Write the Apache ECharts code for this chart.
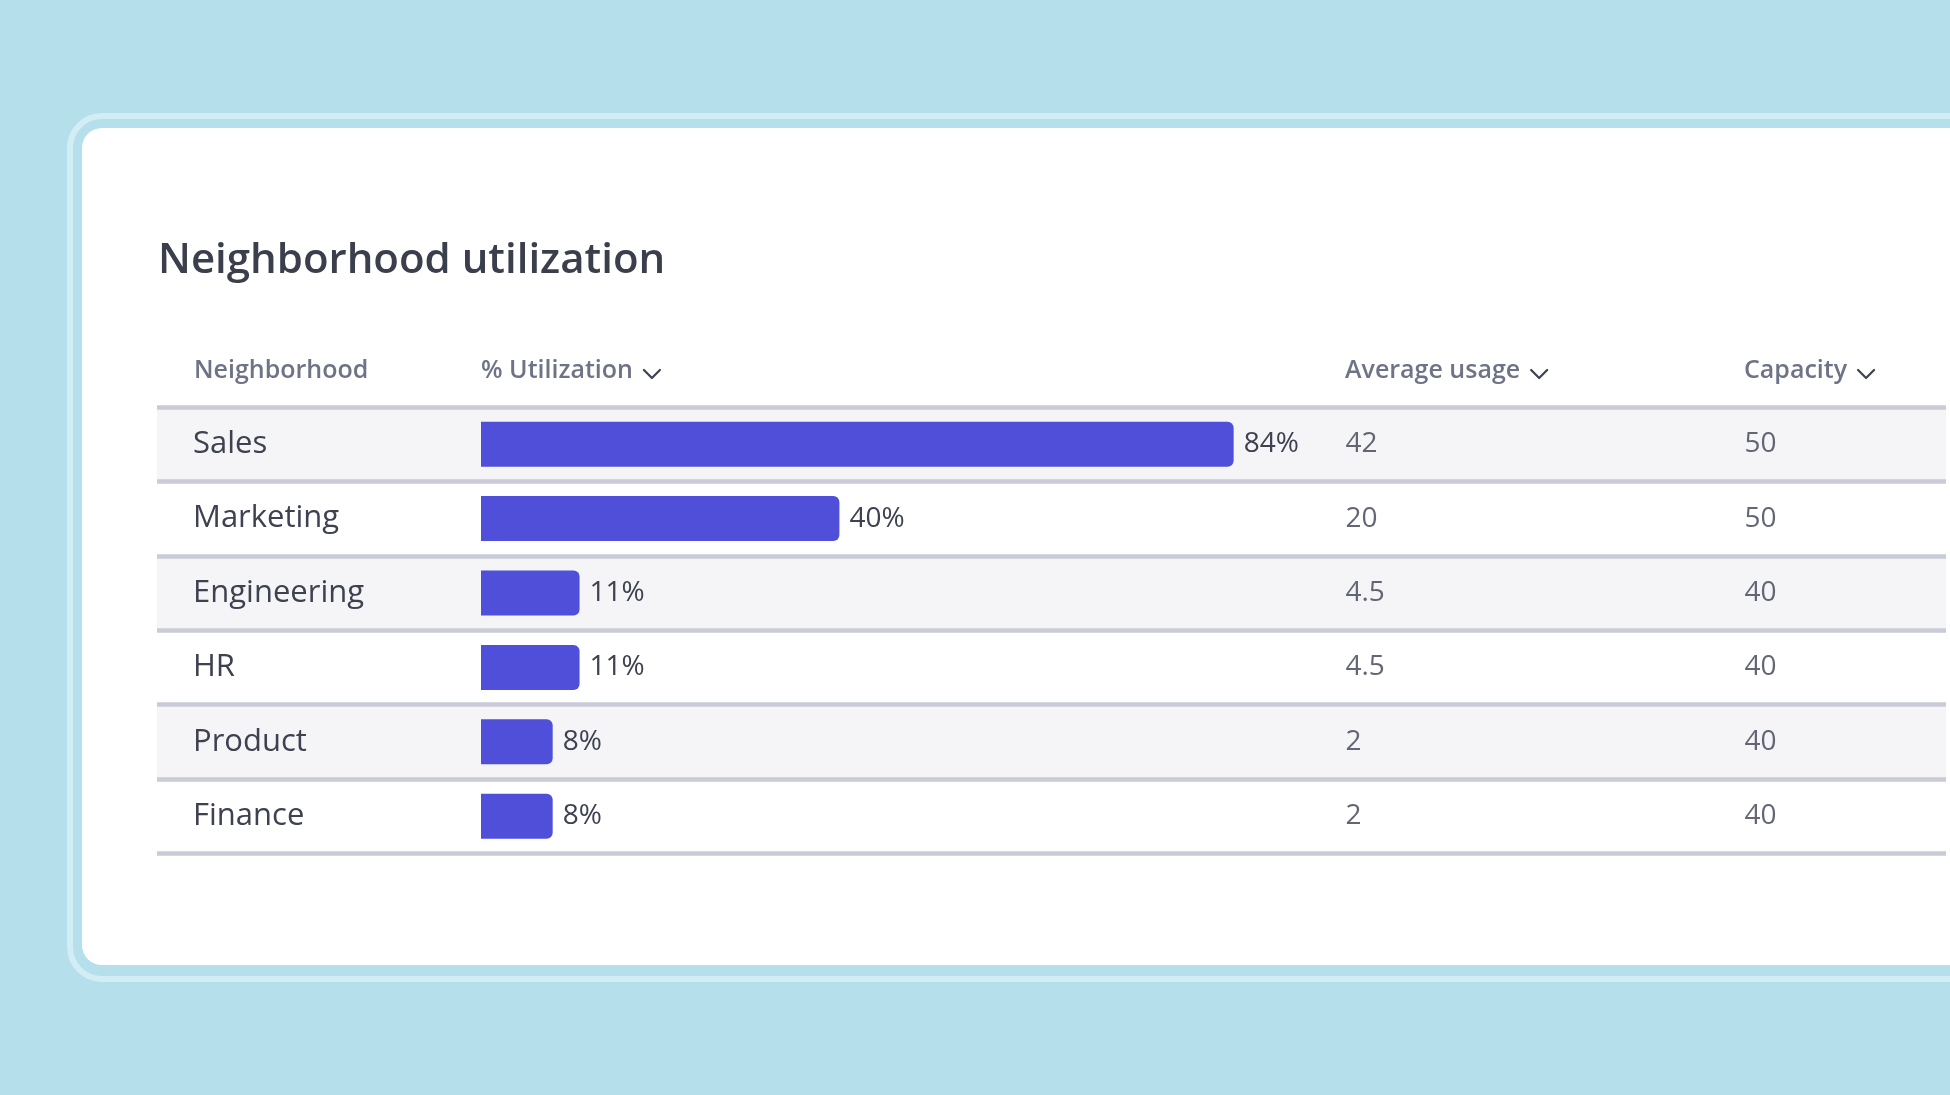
<!DOCTYPE html>
<html>
<head>
<meta charset="utf-8">
<script src="https://cdn.jsdelivr.net/npm/echarts@6/dist/echarts.min.js"></script>
<style>
html,body{margin:0;padding:0;background:#b5dfeb;}
#chart{width:1950px;height:1095px;}
</style>
</head>
<body>
<div id="chart"></div>
<script>
const titleText = 'Neighborhood utilization';
const headers = ['Neighborhood', '% Utilization', 'Average usage', 'Capacity'];
const sortable = [false, true, true, true];
const categories = ['Sales', 'Marketing', 'Engineering', 'HR', 'Product', 'Finance'];
const utilization = [84, 40, 11, 11, 8, 8];
const avgUsage = [42, 20, 4.5, 4.5, 2, 2];
const capacity = [50, 50, 40, 40, 40, 40];

const FONT = '"Open Sans", Lato, sans-serif';
const TEXT = '#3d4150';
const HEAD = '#6e7385';

const tableTop = 407;
const tableHeight = 446.4;
const colX = [194, 481, 1345, 1744];

const chart = echarts.init(document.getElementById('chart'));

const cv = document.createElement('canvas').getContext('2d');
cv.font = '600 25px ' + FONT;

const graphics = [
  { type: 'rect', z: -10, silent: true,
    shape: { x: 70, y: 116, width: 1950, height: 863, r: 32 },
    style: { fill: 'none', stroke: '#d3edf5', lineWidth: 6 } },
  { type: 'rect', z: -9, silent: true,
    shape: { x: 82, y: 128, width: 1950, height: 837, r: 20 },
    style: { fill: '#ffffff' } }
];
headers.forEach((h, i) => {
  graphics.push({
    type: 'text', x: colX[i], y: 371, silent: true,
    style: { text: h, fill: HEAD, fontSize: 25, fontWeight: 600, fontFamily: FONT,
             verticalAlign: 'middle', align: 'left' }
  });
  if (sortable[i]) {
    const w = cv.measureText(h).width;
    const cx = colX[i] + w + 11;
    graphics.push({
      type: 'polyline', silent: true,
      shape: { points: [[cx, 370], [cx + 8, 378], [cx + 16, 370]] },
      style: { stroke: TEXT, lineWidth: 2.2, fill: 'none', lineCap: 'round', lineJoin: 'round' }
    });
  }
});

const hiddenCat = (idx) => ({
  type: 'category', gridIndex: idx, data: categories, inverse: true, show: false
});
const hiddenVal = (idx, min, max) => ({
  type: 'value', gridIndex: idx, min: min, max: max, show: false
});

const option = {
  backgroundColor: '#b5dfeb',
  animation: false,
  title: {
    text: titleText, left: 158, top: 239, padding: 0,
    textStyle: { fontSize: 42, fontWeight: 600, color: '#3b3f4c', fontFamily: FONT, lineHeight: 44 }
  },
  graphic: graphics,
  grid: [
    { left: 157, right: 4, top: tableTop, height: tableHeight },
    { left: 481, width: 896, top: tableTop, height: tableHeight },
    { left: colX[2], width: 100, top: tableTop, height: tableHeight },
    { left: colX[3], width: 100, top: tableTop, height: tableHeight }
  ],
  xAxis: [
    hiddenVal(0, 0, 1),
    hiddenVal(1, 0, 100),
    hiddenVal(2, 0, 1),
    hiddenVal(3, 0, 1)
  ],
  yAxis: [
    {
      type: 'category', gridIndex: 0, data: categories, inverse: true,
      axisLine: { show: false }, axisTick: { show: false },
      axisLabel: { inside: true, margin: 36, fontSize: 31, color: TEXT, fontFamily: FONT, align: 'left' },
      splitLine: { show: true, lineStyle: { color: '#c9cbd6', width: 4.5 } },
      splitArea: { show: true, areaStyle: { color: ['#f5f5f8', '#ffffff'] } }
    },
    hiddenCat(1), hiddenCat(2), hiddenCat(3)
  ],
  series: [
    {
      type: 'bar', xAxisIndex: 1, yAxisIndex: 1, data: utilization,
      barWidth: 45, silent: true,
      itemStyle: { color: '#4f4fd9', borderRadius: [0, 6, 6, 0] },
      label: { show: true, position: 'right', distance: 10, formatter: '{c}%',
               fontSize: 28, color: TEXT, fontFamily: FONT }
    },
    {
      type: 'scatter', xAxisIndex: 2, yAxisIndex: 2, silent: true,
      data: categories.map((c, i) => [0, c, avgUsage[i]]),
      symbolSize: 1, itemStyle: { color: 'rgba(0,0,0,0)' },
      label: { show: true, position: 'right', distance: 0, formatter: p => String(p.value[2]),
               fontSize: 28, color: TEXT, fontFamily: FONT }
    },
    {
      type: 'scatter', xAxisIndex: 3, yAxisIndex: 3, silent: true,
      data: categories.map((c, i) => [0, c, capacity[i]]),
      symbolSize: 1, itemStyle: { color: 'rgba(0,0,0,0)' },
      label: { show: true, position: 'right', distance: 0, formatter: p => String(p.value[2]),
               fontSize: 28, color: TEXT, fontFamily: FONT }
    }
  ]
};
chart.setOption(option);
</script>
</body>
</html>
